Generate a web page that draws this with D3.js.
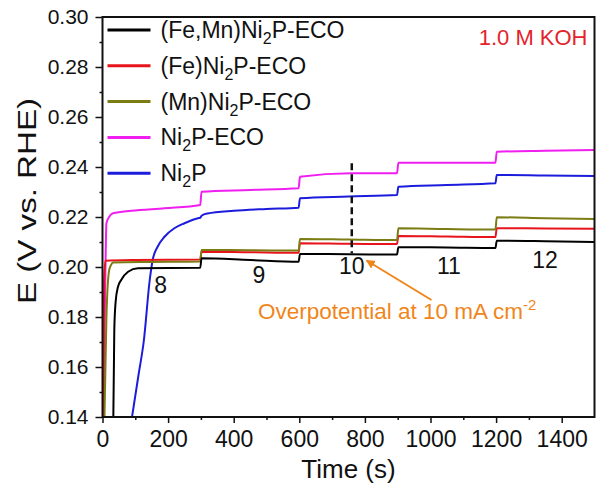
<!DOCTYPE html>
<html>
<head>
<meta charset="utf-8">
<script src="https://cdn.jsdelivr.net/npm/d3@7"></script>
<style>
  html, body { margin: 0; padding: 0; background: #fff; }
  svg { display: block; font-family: Arial, "Liberation Sans", sans-serif; }
</style>
</head>
<body>
<div id="chart"></div>
<script>
var width = 597
var height = 486
var margin = { top: 17, right: 2.5, bottom: 69, left: 102.5 }

// chronopotentiometry data, [time (s), E (V vs RHE)]
var feMnData = [[33, 0.14], [36, 0.175], [40, 0.186], [47, 0.192], [57, 0.1948], [78, 0.1981], [108, 0.1995],
    [298, 0.1997], [302, 0.2035], [450, 0.2028], [598, 0.2021], [602, 0.2052], [750, 0.2051], [898, 0.2050],
    [902, 0.2079], [1050, 0.2078], [1198, 0.2076], [1202, 0.2105], [1350, 0.2103], [1500, 0.2100]]
var feData = [[2, 0.14], [5, 0.195], [9, 0.2025], [100, 0.2028], [298, 0.2030], [302, 0.2061], [450, 0.2059],
    [598, 0.2057], [602, 0.2095], [750, 0.2093], [898, 0.2092], [902, 0.2124], [1050, 0.2122], [1198, 0.2120],
    [1202, 0.2155], [1350, 0.2154], [1500, 0.2153]]
var mnData = [[6, 0.14], [12, 0.18], [20, 0.1985], [26, 0.2008], [32, 0.2018], [150, 0.2020], [298, 0.2022],
    [302, 0.2068], [450, 0.2067], [598, 0.2066], [602, 0.2112], [750, 0.2110], [898, 0.2108], [902, 0.2155],
    [1050, 0.2152], [1198, 0.2150], [1202, 0.2199], [1350, 0.2195], [1500, 0.2192]]
var ecoData = [[3, 0.14], [8, 0.19], [12, 0.2175], [20, 0.2200], [32, 0.2215], [88, 0.2225], [189, 0.2235],
    [298, 0.2248], [302, 0.2301], [450, 0.2308], [598, 0.2315], [602, 0.2361], [758, 0.2375], [898, 0.2375],
    [902, 0.2417], [1050, 0.2417], [1198, 0.2417], [1202, 0.2461], [1350, 0.2465], [1500, 0.2468]]
var ni2pData = [[90, 0.14], [110, 0.157], [126, 0.1705], [144, 0.1948], [153, 0.2028], [168, 0.2081],
    [189, 0.2121], [219, 0.2155], [250, 0.2175], [291, 0.2195], [298, 0.2197], [302, 0.2205], [320, 0.2214],
    [400, 0.2225], [500, 0.2232], [598, 0.2237], [602, 0.2275], [750, 0.2282], [898, 0.2288], [902, 0.2321],
    [1050, 0.2328], [1198, 0.2335], [1202, 0.2368], [1350, 0.2366], [1500, 0.2364]]

var seriesNames = ["(Fe,Mn)Ni|2|P-ECO", "(Fe)Ni|2|P-ECO", "(Mn)Ni|2|P-ECO", "Ni|2|P-ECO", "Ni|2|P"]
var seriesColors = ["#000000", "#e8141c", "#7c7c14", "#f01ef0", "#1c1cdc"]
var seriesData = [feMnData, feData, mnData, ecoData, ni2pData]
var drawOrder = [3, 4, 1, 2, 0]

var xTicks = [0, 200, 400, 600, 800, 1000, 1200, 1400]
var yTicks = [0.14, 0.16, 0.18, 0.20, 0.22, 0.24, 0.26, 0.28, 0.30]

// current density labels (mA cm-2) per step: [t, E]
var stepLabels = ["8", "9", "10", "11", "12"]
var stepLabelPos = [[177, 0.1895], [477, 0.1935], [760, 0.1972], [1056, 0.1972], [1349, 0.1995]]

var plotW = width - margin.left - margin.right
var plotH = height - margin.top - margin.bottom

var svg = d3.select('#chart')
    .append('svg')
    .attr('width', width)
    .attr('height', height)

var x = d3.scaleLinear().domain([0, 1500]).range([0, plotW])
var y = d3.scaleLinear().domain([0.14, 0.30]).range([plotH, 0])

var g = svg.append('g')
    .attr('transform', 'translate(' + margin.left + ',' + margin.top + ')')

g.append('clipPath').attr('id', 'clip')
    .append('rect').attr('width', plotW).attr('height', plotH)

// minor ticks
g.append('g')
    .attr('transform', 'translate(0,' + plotH + ')')
    .call(d3.axisBottom(x).tickValues(d3.range(100, 1500, 200)).tickSize(3).tickFormat(''))
    .call(a => a.select('.domain').remove())
g.append('g')
    .call(d3.axisLeft(y).tickValues(d3.range(0.15, 0.30, 0.02)).tickSize(3).tickFormat(''))
    .call(a => a.select('.domain').remove())

var xAxis = g.append('g')
    .attr('transform', 'translate(0,' + plotH + ')')
    .call(d3.axisBottom(x).tickValues(xTicks).tickSize(6).tickPadding(8).tickSizeOuter(0)
        .tickFormat(d3.format('d')))
xAxis.selectAll('text').attr('font-size', 23).attr('fill', '#111')

var yAxis = g.append('g')
    .call(d3.axisLeft(y).tickValues(yTicks).tickSize(7).tickPadding(7).tickSizeOuter(0)
        .tickFormat(d3.format('.2f')))
yAxis.selectAll('text').attr('font-size', 21).attr('fill', '#111')

svg.selectAll('.tick line').attr('stroke', '#111').attr('stroke-width', 1.5)
svg.selectAll('.domain').remove()

var line = d3.line()
    .x(d => x(d[0]))
    .y(d => y(d[1]))
    .curve(d3.curveMonotoneX)

var lines = g.append('g').attr('clip-path', 'url(#clip)')
drawOrder.forEach(function (i) {
    lines.append('path')
        .datum(seriesData[i])
        .attr('d', line)
        .attr('fill', 'none')
        .attr('stroke', seriesColors[i])
        .attr('stroke-width', 2)
})

// dashed marker at 10 mA cm-2
g.append('line')
    .attr('x1', x(760)).attr('x2', x(760))
    .attr('y1', y(0.2415)).attr('y2', y(0.2055))
    .attr('stroke', '#111')
    .attr('stroke-width', 2.5)
    .attr('stroke-dasharray', '7,4')

g.selectAll('.step-label')
    .data(stepLabels)
    .enter()
    .append('text')
    .attr('class', 'step-label')
    .attr('x', (d, i) => x(stepLabelPos[i][0]))
    .attr('y', (d, i) => y(stepLabelPos[i][1]))
    .attr('text-anchor', 'middle')
    .attr('font-size', 23)
    .attr('fill', '#111')
    .text(d => d)

// arrow + note
var orange = '#f0861a'
svg.append('defs').append('marker')
    .attr('id', 'head')
    .attr('viewBox', '0 0 10 10')
    .attr('refX', 9).attr('refY', 5)
    .attr('markerWidth', 4.5).attr('markerHeight', 4.5)
    .attr('orient', 'auto')
    .append('path').attr('d', 'M0,0L10,5L0,10z').attr('fill', orange)

g.append('line')
    .attr('x1', x(1003)).attr('y1', y(0.1868))
    .attr('x2', x(805)).attr('y2', y(0.2026))
    .attr('stroke', orange)
    .attr('stroke-width', 2)
    .attr('marker-end', 'url(#head)')

var note = g.append('text')
    .attr('x', x(474))
    .attr('y', y(0.1792))
    .attr('font-size', 22.5)
    .attr('fill', orange)
note.append('tspan').text('Overpotential at 10 mA cm')
note.append('tspan').attr('font-size', 15).attr('dy', -9).text('-2')

g.append('text')
    .attr('x', plotW - 7)
    .attr('y', 28)
    .attr('text-anchor', 'end')
    .attr('font-size', 22)
    .attr('fill', '#e3242b')
    .text('1.0 M KOH')

// legend
var legend = g.append('g').attr('transform', 'translate(5,13)')
seriesNames.forEach(function (name, i) {
    var row = legend.append('g').attr('transform', 'translate(0,' + (i * 35.8) + ')')
    row.append('line')
        .attr('x1', 0).attr('x2', 43)
        .attr('stroke', seriesColors[i])
        .attr('stroke-width', 3)
    var parts = name.split('|')
    var t = row.append('text')
        .attr('x', 53)
        .attr('y', 8)
        .attr('font-size', 23)
        .attr('fill', '#111')
    t.append('tspan').text(parts[0])
    t.append('tspan').attr('font-size', 16).attr('dy', 6).text(parts[1])
    t.append('tspan').attr('dy', -6).text(parts[2])
})

// frame
g.append('rect')
    .attr('width', plotW)
    .attr('height', plotH)
    .attr('fill', 'none')
    .attr('stroke', '#111')
    .attr('stroke-width', 2)

svg.append('text')
    .attr('x', margin.left + plotW / 2)
    .attr('y', 478)
    .attr('text-anchor', 'middle')
    .attr('font-size', 26)
    .attr('fill', '#111')
    .text('Time (s)')

svg.append('text')
    .attr('transform', 'translate(36,201) rotate(-90)')
    .attr('text-anchor', 'middle')
    .attr('font-size', 26)
    .attr('fill', '#111')
    .attr('textLength', 206)
    .attr('lengthAdjust', 'spacingAndGlyphs')
    .text('E (V vs. RHE)')
</script>
</body>
</html>
